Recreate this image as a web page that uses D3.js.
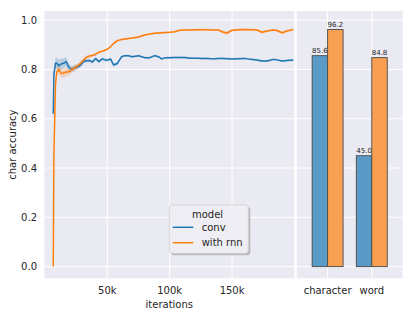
<!DOCTYPE html>
<html><head><meta charset="utf-8">
<script src="https://cdn.jsdelivr.net/npm/d3@7"></script>
<style>body{margin:0;background:#fff}svg{display:block;font-family:"DejaVu Sans",sans-serif}</style>
</head><body><svg id="c" width="414" height="317"></svg>
<script>
// ---- data ----
const iterations = [6.7,7.2,8.5,9.5,11,13,15,17,19,21.5,23.5,26,28.7,31,33.5,36,38,40.7,43.3,46,48.7,50,52.7,55,58,61.5,64,67,70,75,80,84,88,91,93.6,97,100,104,108,112,117,122,126,130,135,139,143,146,150,155,160,165,170,174,178,183,186,190,194,199].map(k=>k*1000);
const convAcc = [0.62,0.78,0.825,0.826,0.815,0.822,0.825,0.832,0.81,0.80,0.806,0.81,0.818,0.832,0.835,0.836,0.83,0.844,0.832,0.843,0.838,0.838,0.842,0.818,0.824,0.852,0.856,0.856,0.852,0.856,0.848,0.848,0.856,0.852,0.843,0.848,0.848,0.849,0.849,0.849,0.846,0.846,0.845,0.845,0.843,0.845,0.845,0.844,0.843,0.844,0.845,0.841,0.838,0.834,0.834,0.841,0.839,0.834,0.836,0.838];
const rnnAcc = [0.0,0.45,0.74,0.79,0.80,0.785,0.785,0.79,0.79,0.80,0.805,0.814,0.825,0.838,0.85,0.855,0.857,0.862,0.87,0.874,0.879,0.882,0.893,0.905,0.917,0.922,0.924,0.926,0.928,0.932,0.94,0.944,0.947,0.948,0.949,0.95,0.951,0.953,0.959,0.96,0.96,0.961,0.961,0.961,0.96,0.96,0.951,0.948,0.959,0.961,0.962,0.961,0.96,0.951,0.956,0.96,0.958,0.949,0.956,0.962];
const convCi = [0.01,0.02,0.022,0.024,0.024,0.022,0.02,0.02,0.016,0.012,0.012,0.01,0.008,0.007,0.006,0.006,0.006,0.006,0.006,0.006,0.006,0.006,0.006,0.007,0.007,0.005,0.004,0.004,0.004,0.004,0.004,0.004,0.004,0.004,0.004,0.004,0.004,0.004,0.004,0.004,0.004,0.004,0.004,0.004,0.004,0.004,0.004,0.004,0.004,0.004,0.004,0.004,0.004,0.004,0.004,0.004,0.004,0.004,0.004,0.004];
const rnnCi = [0.01,0.02,0.02,0.018,0.018,0.018,0.018,0.016,0.014,0.012,0.012,0.01,0.01,0.008,0.008,0.006,0.006,0.005,0.005,0.004,0.004,0.004,0.004,0.004,0.004,0.004,0.004,0.004,0.004,0.004,0.004,0.004,0.004,0.004,0.004,0.004,0.004,0.004,0.004,0.004,0.004,0.004,0.004,0.004,0.004,0.004,0.006,0.007,0.005,0.004,0.004,0.004,0.004,0.006,0.005,0.004,0.004,0.006,0.005,0.004];
const models = ["conv","with rnn"];
const colors = ["#1f77b4","#ff7f0e"];
const barCategories = ["character","word"];
const barConv = [85.6,45.0];
const barRnn = [96.2,84.8];
const yTicks = [0.0,0.2,0.4,0.6,0.8,1.0];
const xTicks = [50000,100000,150000];

// ---- layout ----
const svg = d3.select("#c");
const yTop=11, yBot=278.3;
const L = {x0:44.3, x1:294.3};
const R = {x0:296.7, x1:402.7};
const y = d3.scaleLinear().domain([-0.0475,1.0373]).range([yBot,yTop]);
const x = d3.scaleLinear().domain([-480,199860]).range([L.x0,L.x1]);
const xb = d3.scaleLinear().domain([-0.7,1.7]).range([R.x0,R.x1]);
const bg="#eaeaf2", txt="#262626", fs=10;

// panels
svg.append("rect").attr("x",L.x0).attr("y",yTop).attr("width",L.x1-L.x0).attr("height",yBot-yTop).attr("fill",bg);
svg.append("rect").attr("x",R.x0).attr("y",yTop).attr("width",R.x1-R.x0).attr("height",yBot-yTop).attr("fill",bg);

// grids
const gL = svg.append("g");
yTicks.forEach(t=>{
  gL.append("line").attr("x1",L.x0).attr("x2",L.x1).attr("y1",y(t)).attr("y2",y(t)).attr("stroke","#fff").attr("stroke-width",1);
  gL.append("line").attr("x1",R.x0).attr("x2",R.x1).attr("y1",y(t)).attr("y2",y(t)).attr("stroke","#fff").attr("stroke-width",1);
});
xTicks.forEach(t=>{
  gL.append("line").attr("x1",x(t)).attr("x2",x(t)).attr("y1",yTop).attr("y2",yBot).attr("stroke","#fff").attr("stroke-width",1);
});
barCategories.forEach((c,i)=>{
  gL.append("line").attr("x1",xb(i)).attr("x2",xb(i)).attr("y1",yTop).attr("y2",yBot).attr("stroke","#fff").attr("stroke-width",1);
});

// lines
svg.append("clipPath").attr("id","clipL").append("rect").attr("x",L.x0).attr("y",yTop).attr("width",L.x1-L.x0).attr("height",yBot-yTop);
const gLines = svg.append("g").attr("clip-path","url(#clipL)");
const series = [
  {name:models[0], mean:convAcc, ci:convCi, color:colors[0]},
  {name:models[1], mean:rnnAcc, ci:rnnCi, color:colors[1]}
];
series.forEach(s=>{
  const pts = iterations.map((it,i)=>({x:it,m:s.mean[i],c:s.ci[i]}));
  gLines.append("path").datum(pts)
    .attr("d",d3.area().x(d=>x(d.x)).y0(d=>y(d.m-d.c)).y1(d=>y(d.m+d.c)))
    .attr("fill",s.color).attr("opacity",0.25);
});
series.forEach(s=>{
  const pts = iterations.map((it,i)=>({x:it,m:s.mean[i]}));
  gLines.append("path").datum(pts)
    .attr("d",d3.line().x(d=>x(d.x)).y(d=>y(d.m)))
    .attr("fill","none").attr("stroke",s.color).attr("stroke-width",1.5).attr("stroke-linejoin","round");
});

// bars
const bw = 0.35;
const gB = svg.append("g");
const barFill = ["#5a9ac7","#f99f52"];
[barConv,barRnn].forEach((vals,h)=>{
  vals.forEach((v,i)=>{
    const x0 = h===0 ? xb(i-bw) : xb(i);
    const x1 = h===0 ? xb(i) : xb(i+bw);
    gB.append("rect").attr("x",x0).attr("y",y(v/100)).attr("width",x1-x0).attr("height",y(0)-y(v/100))
      .attr("fill",barFill[h]).attr("stroke","#4a4a4a").attr("stroke-width",0.9);
    gB.append("text").attr("x",(x0+x1)/2).attr("y",y(v/100)-3).attr("text-anchor","middle")
      .attr("font-size",7).attr("fill",txt).text(v.toFixed(1));
  });
});

// axes text
yTicks.forEach(t=>{
  svg.append("text").attr("x",37).attr("y",y(t)).attr("dy","0.36em").attr("text-anchor","end")
    .attr("font-size",fs).attr("fill",txt).text(t.toFixed(1));
});
xTicks.forEach(t=>{
  svg.append("text").attr("x",x(t)).attr("y",290.7).attr("dy","0.36em").attr("text-anchor","middle")
    .attr("font-size",fs).attr("fill",txt).text((t/1000)+"k");
});
barCategories.forEach((c,i)=>{
  svg.append("text").attr("x",xb(i)).attr("y",290.7).attr("dy","0.36em").attr("text-anchor","middle")
    .attr("font-size",fs).attr("fill",txt).text(c);
});
svg.append("text").attr("x",(L.x0+L.x1)/2).attr("y",304).attr("dy","0.36em").attr("text-anchor","middle")
  .attr("font-size",fs).attr("fill",txt).text("iterations");
svg.append("text").attr("transform",`translate(12,${(yTop+yBot)/2}) rotate(-90)`).attr("dy","0.36em").attr("text-anchor","middle")
  .attr("font-size",fs).attr("fill",txt).text("char accuracy");

// legend
const lg = svg.append("g");
const lx=169.3, ly=205, lw=79, lh=48.3;
lg.append("rect").attr("x",lx+2).attr("y",ly+2).attr("width",lw).attr("height",lh).attr("rx",3).attr("fill","#9a9a9a").attr("opacity",0.6);
lg.append("rect").attr("x",lx).attr("y",ly).attr("width",lw).attr("height",lh).attr("rx",3).attr("fill","#eeeef4").attr("stroke","#cfcfcf").attr("stroke-width",0.8);
lg.append("text").attr("x",207.5).attr("y",214).attr("dy","0.36em").attr("text-anchor","middle").attr("font-size",fs).attr("fill",txt).text("model");
models.forEach((m,i)=>{
  const yy = 227.3 + i*15.4;
  lg.append("line").attr("x1",172.7).attr("x2",193.3).attr("y1",yy).attr("y2",yy).attr("stroke",colors[i]).attr("stroke-width",1.5);
  lg.append("text").attr("x",201.7).attr("y",yy).attr("dy","0.36em").attr("font-size",fs).attr("fill",txt).text(m);
});
</script></body></html>
